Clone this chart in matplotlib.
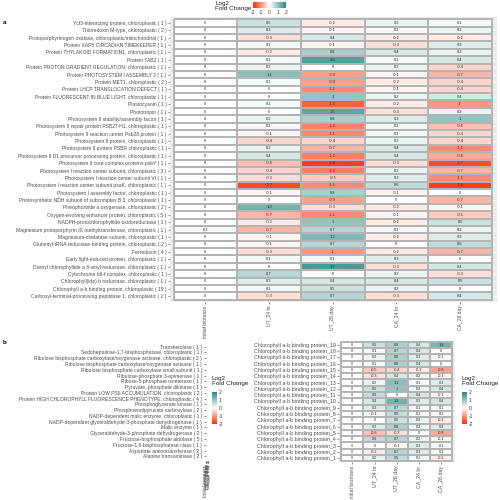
import numpy as np
import matplotlib
matplotlib.use('Agg')
import matplotlib.pyplot as plt
from matplotlib.colors import LinearSegmentedColormap, Normalize

plt.rcParams['font.family'] = ['Liberation Sans', 'DejaVu Sans']

conditions = ['Initial biomass', 'UT_24 hr', 'UT_28 day', 'CA_24 hr', 'CA_28 day']

# panel a: photosynthesis related proteins (top to bottom)
a_proteins = [
    'Ycf3-interacting protein, chloroplastic ( 1 )',
    'Thioredoxin M-type, chloroplastic ( 2 )',
    'Protoporphyrinogen oxidase, chloroplastic/mitochondrial ( 1 )',
    'Protein XAP5 CIRCADIAN TIMEKEEPER ( 1 )',
    'Protein THYLAKOID FORMATION1, chloroplastic ( 1 )',
    'Protein TAB2 ( 1 )',
    'Protein PROTON GRADIENT REGULATION, chloroplastic ( 1 )',
    'Protein PHOTOSYSTEM I ASSEMBLY 2 ( 1 )',
    'Protein MET1, chloroplastic ( 2 )',
    'Protein LHCP TRANSLOCATION DEFECT ( 1 )',
    'Protein FLUORESCENT IN BLUE LIGHT, chloroplastic ( 1 )',
    'Plastocyanin ( 1 )',
    'Phototropin ( 1 )',
    'Photosystem II stability/assembly factor ( 1 )',
    'Photosystem II repair protein PSB27-H1, chloroplastic ( 1 )',
    'Photosystem II reaction center Psb28 protein ( 1 )',
    'Photosystem II protein, chloroplastic ( 1 )',
    'Photosystem II protein PSBR chloroplastic ( 1 )',
    'Photosystem II D1 precursor processing protein, chloroplastic ( 1 )',
    'Photosystem II core complex proteins psbY ( 1 )',
    'Photosystem I reaction center subunit, chloroplastic ( 3 )',
    'Photosystem I reaction center subunit VI ( 1 )',
    'Photosystem I reaction center subunit psaK, chloroplastic ( 1 )',
    'Photosystem I assembly factor, chloroplastic ( 1 )',
    'Photosynthetic NDH subunit of subcomplex B 3, chloroplastic ( 1 )',
    'Pheophorbide a oxygenase, chloroplastic ( 2 )',
    'Oxygen-evolving enhancer protein, chloroplastic ( 5 )',
    'NADPH-protochlorophyllide oxidoreductase ( 1 )',
    'Magnesium protoporphyrin IX methyltransferase, chloroplastic ( 1 )',
    'Magnesium-chelatase subunit, chloroplastic ( 1 )',
    'Glutamyl-tRNA reductase-binding protein, chloroplastic ( 2 )',
    'Ferredoxin ( 4 )',
    'Early light-induced protein, chloroplastic ( 1 )',
    'Divinyl chlorophyllide a 8-vinyl-reductase, chloroplastic ( 1 )',
    'Cytochrome b6-f complex, chloroplastic ( 1 )',
    'Chlorophyll(ide) b reductase, chloroplastic ( 1 )',
    'Chlorophyll a-b binding protein, chloroplastic ( 19 )',
    'Carboxyl-terminal-processing peptidase 1, chloroplastic ( 1 )',
]
a_initial = [0]*28 + [0.1] + [0]*9
a_ut24 = [0.5, 0.3, -0.3, 0.1, -0.2, 0.1, 0.2, 1.1, 0.1, 0, 0, 0.1, 0, 0.2, 0.1, -0.1,
          -0.4, 0.2, 0.4, -0.6, -0.4, -0.3, -1.7, -0.1, 0, 1.3, -0.7, -0.2, -0.7, -0.1,
          -0.1, -0.3, 0.1, 0, 0.7, 0.3, 0.1, -0.3]
a_ut28 = [-0.2, -0.1, 0.4, -0.1, 0.8, 1.6, 0, -0.9, -0.9, -1.1, 1, -1.5, 1.5, 0.8, -1.2, -1.1,
          -0.4, -0.7, -1.2, -1.8, -1.2, -0.5, -1.1, 0.8, -0.9, -0.3, -1.1, 1, 0.7, 1.2,
          0.7, -1, 0.1, 1.7, 0, 0.4, 0.5, 0.7]
a_ca24 = [0.2, 0.1, -0.2, -0.3, 0.4, 0.1, 0.2, -0.1, -0.2, -0.1, 0.2, -0.2, -0.3, 0.3, 0.1, 0.1,
          0.2, 0.4, 0.4, -0.3, 0.2, 0.3, 0.6, -0.1, 0, -0.2, -0.1, -0.2, 0.1, -0.2,
          0, -0.2, 0.3, -0.3, 0.2, 0.4, 0.2, -0.3]
a_ca28 = [0.1, 0.2, -0.2, 0.3, 0.2, 0.4, -0.4, -0.7, -0.4, -0.4, 0.4, -1, 0.2, 1, -0.6, -0.4,
          -0.4, -1.1, -0.8, -1.7, -0.7, -1.1, -1.8, 0, -0.7, -0.1, -0.5, 0.5, 0.2, 0.3,
          0.6, -0.7, 0, 0.4, -0.3, 0.5, 0, 0.4]

# panel b left: carbon fixation proteins (heatmap collapsed to zero width)
b_proteins = [
    'Transketolase ( 1 )',
    'Sedoheptulose-1,7-bisphosphatase, chloroplastic ( 1 )',
    'Ribulose bisphosphate carboxylase/oxygenase activase, chloroplastic ( 2 )',
    'Ribulose bisphosphate carboxylase/oxygenase activase ( 1 )',
    'Ribulose bisphosphate carboxylase small subunit ( 1 )',
    'Ribulose-phosphate 3-epimerase ( 1 )',
    'Ribose-5-phosphate isomerase ( 1 )',
    'Pyruvate, phosphate dikinase ( 1 )',
    'Protein LOW PSII ACCUMULATION, chloroplastic ( 2 )',
    'Protein HIGH CHLOROPHYLL FLUORESCENCE PHENOTYPE, chloroplastic ( 4 )',
    'Phosphoglycerate kinase ( 1 )',
    'Phosphoenolpyruvate carboxylase ( 2 )',
    'NADP-dependent malic enzyme, chloroplastic ( 1 )',
    'NADP-dependent glyceraldehyde-3-phosphate dehydrogenase ( 1 )',
    'Malic enzyme ( 1 )',
    'Glyceraldehyde-3-phosphate dehydrogenase ( 2 )',
    'Fructose-bisphosphate aldolase ( 5 )',
    'Fructose-1,6-bisphosphatase class ( 1 )',
    'Aspartate aminotransferase ( 2 )',
    'Alanine transaminase ( 2 )',
]

# panel b right: chlorophyll a-b binding proteins
lhc_proteins = ['Chlorophyll a-b binding protein_%d' % i for i in range(19, 0, -1)]
lhc_initial = [0]*19
lhc_ut24 = [0.5, 0.1, 0.2, 0.1, -0.5, -0.3, 0.2, 0.5, 0.6, 0.4, 0.3, -0.1, 0, 0.3, -0.6, 0.6, 0, -0.2, 0.2]
lhc_ut28 = [0.8, 0.7, 0.8, 0.8, -0.4, 0.4, 1.1, 1, 0, 1.3, 0.7, 0.6, 0.5, 0.8, -0.3, 0.7, -0.1, 0.7, 0.6]
lhc_ca24 = [0.4, 0.4, 0.3, 0.4, -0.2, 0.2, 0.1, 0.2, 0.4, 0.3, 0.1, 0.1, 0.2, 0.2, 0, 0.2, 0.3, 0.3, 0.1]
lhc_ca28 = [1.3, 0, -0.1, 0, -0.9, -0.1, 0.3, 0.4, -0.1, 0.4, 0.1, 0.1, -0.2, 0.3, -0.8, -0.1, 0.1, 0.1, -0.2]

W = H = 500
fig = plt.figure(figsize=(5, 5), dpi=100)

def box(x0, y0, x1, y1):
    return [x0 / W, 1 - y1 / H, (x1 - x0) / W, (y1 - y0) / H]

cmap = LinearSegmentedColormap.from_list('fc', ['#FF2A00', '#FFFFFF', '#2A8A83'])
norm = Normalize(-2, 2)
txt = '#4D4D4D'

def heatmap(ax, rows, cols, fs_row, fs_cell, xpad, ypad):
    ax.set_facecolor('#EBEBEB')
    ax.set_axisbelow(True)
    ax.grid(color='white', lw=0.6)
    n = len(rows)
    if cols is not None:
        vals = np.column_stack(cols)
        ax.pcolormesh(np.arange(len(conditions) + 1) - 0.5, np.arange(n + 1) - 0.5, vals,
                      cmap=cmap, norm=norm, edgecolors='#B4B4B4', linewidth=0.3)
        for i in range(n):
            for j in range(len(conditions)):
                ax.text(j, i, f'{vals[i, j]:g}', ha='center', va='center',
                        fontsize=fs_cell, color='#2A2A2A')
    ax.set_xlim(-0.5 - xpad[0], len(conditions) - 0.5 + xpad[1])
    ax.set_ylim(n - 0.5 + ypad, -0.5 - ypad)
    ax.set_yticks(range(n))
    ax.set_yticklabels(rows, fontsize=fs_row, color=txt)
    ax.set_xticks(range(len(conditions)))
    ax.set_xticklabels(conditions, rotation=90, fontsize=fs_row, color=txt)
    ax.tick_params(length=1.5, width=0.4, color='#333333', pad=1)
    for s in ax.spines.values():
        s.set_visible(False)

def legend_bar(x0, y0, x1, y1, horizontal):
    ax = fig.add_axes(box(x0, y0, x1, y1))
    g = np.linspace(-2, 2, 256)
    if horizontal:
        ax.imshow(g[None, :], cmap=cmap, norm=norm, aspect='auto', extent=[-2, 2, 0, 1])
        ax.set_xticks([-2, -1, 0, 1, 2])
        ax.set_xticklabels(['-2', '-1', '0', '1', '2'], fontsize=3.6, color='#333333')
        ax.set_yticks([])
        ax.tick_params(length=0, pad=1.5)
    else:
        ax.imshow(g[::-1, None], cmap=cmap, norm=norm, aspect='auto', extent=[0, 1, -2, 2])
        ax.yaxis.tick_right()
        ax.set_yticks([-2, -1, 0, 1, 2])
        ax.set_yticklabels(['-2', '-1', '0', '1', '2'], fontsize=3.6, color='#333333')
        ax.set_xticks([])
        ax.tick_params(length=0, pad=1.5)
    for s in ax.spines.values():
        s.set_visible(False)

# panel a
ax_a = fig.add_axes(box(170, 17, 497, 302))
heatmap(ax_a, a_proteins, [a_initial, a_ut24, a_ut28, a_ca24, a_ca28], 3.6, 2.9, (0.055, 0.08), 0.31)
fig.text(3 / W, 1 - 22 / H, 'a', fontsize=4.5, fontweight='bold', va='center')
fig.text(215 / W, 1 - 1 / H, 'Log2\nFold Change', fontsize=4.6, va='top', color='#222222', linespacing=1.0)
legend_bar(253, 2, 286, 8, True)

# panel b
fig.text(3 / W, 1 - 343 / H, 'b', fontsize=4.5, fontweight='bold', va='center')
ax_b1 = fig.add_axes(box(205.5, 342, 208.5, 461))
heatmap(ax_b1, b_proteins, None, 3.6, 2.9, (0, 0), 0.3)
fig.text(212 / W, 1 - 376 / H, 'Log2\nFold Change', fontsize=4.6, va='top', color='#222222', linespacing=1.0)
legend_bar(212, 392, 217, 424, False)

ax_b2 = fig.add_axes(box(339, 341, 455, 462))
heatmap(ax_b2, lhc_proteins, [lhc_initial, lhc_ut24, lhc_ut28, lhc_ca24, lhc_ca28], 3.8, 2.7, (0.1, 0.12), 0.12)
fig.text(462 / W, 1 - 376 / H, 'Log2\nFold Change', fontsize=4.6, va='top', color='#222222', linespacing=1.0)
legend_bar(462, 392, 467, 424, False)

fig.savefig('out.png', dpi=100)
